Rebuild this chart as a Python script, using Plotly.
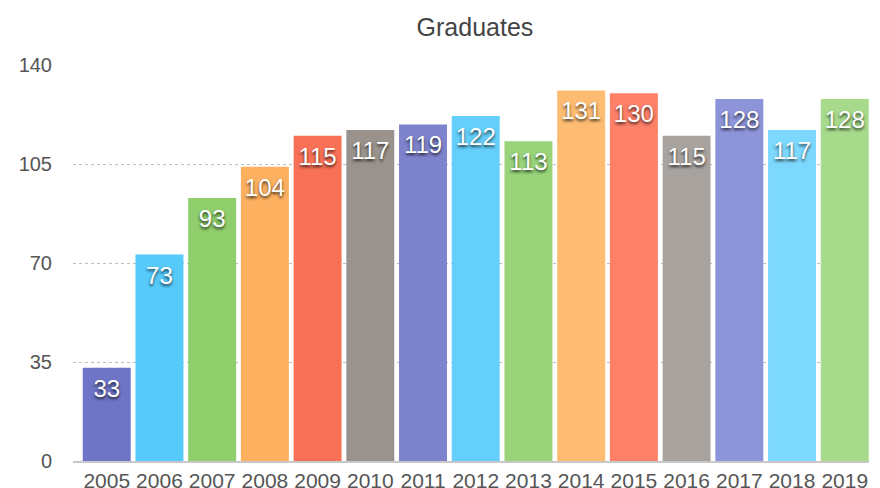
import plotly.graph_objects as go

years = ["2005", "2006", "2007", "2008", "2009", "2010", "2011", "2012",
         "2013", "2014", "2015", "2016", "2017", "2018", "2019"]
graduates = [33, 73, 93, 104, 115, 117, 119, 122, 113, 131, 130, 115, 128, 117, 128]
bar_colors = ["#6E74C6", "#55CAFB", "#8FCE6B", "#FDB05F", "#F87157",
              "#9A938D", "#7E83CD", "#64CFFB", "#99D47A", "#FEBC72",
              "#FF8069", "#A8A39F", "#8E94D9", "#7DD8FD", "#A7DB8B"]
y_ticks = [0, 35, 70, 105, 140]

FONT = "Liberation Sans, Arial, Helvetica, sans-serif"

fig = go.Figure()
fig.add_trace(go.Bar(
    x=years,
    y=graduates,
    marker=dict(color=bar_colors, line=dict(width=0)),
    hoverinfo="x+y",
))
fig.add_trace(go.Scatter(
    x=years,
    y=graduates,
    mode="markers+text",
    text=[str(v) for v in graduates],
    textposition="bottom center",
    textfont=dict(family=FONT, size=24, color="white",
                  shadow="0px 2px 3px rgba(0,0,0,0.75)"),
    marker=dict(size=16, opacity=0),
    hoverinfo="skip",
    cliponaxis=False,
))

fig.update_layout(
    width=872, height=480,
    margin=dict(l=65, r=11, t=57, b=27, autoexpand=False),
    paper_bgcolor="white",
    plot_bgcolor="white",
    bargap=0.09,
    showlegend=False,
    title=dict(text="Graduates", xref="paper", x=0.505, xanchor="center",
               y=0.96, yanchor="middle",
               font=dict(family=FONT, size=25, color="#444444")),
    font=dict(family=FONT),
    xaxis=dict(
        type="category",
        range=[-0.64, 14.46],
        automargin=False,
        showgrid=False,
        showline=True, linecolor="#c8c8c8", linewidth=1.5,
        ticks="", tickfont=dict(family=FONT, size=21, color="#555555"),
        fixedrange=True,
    ),
    yaxis=dict(
        range=[0, 140],
        tickvals=y_ticks,
        automargin=False,
        showgrid=True, gridcolor="#bdbdbd", griddash="dot", gridwidth=1,
        zeroline=False, showline=False,
        ticks="", ticklabelstandoff=20,
        tickfont=dict(family=FONT, size=20, color="#555555"),
        fixedrange=True,
    ),
)

fig.write_html("out.html")
